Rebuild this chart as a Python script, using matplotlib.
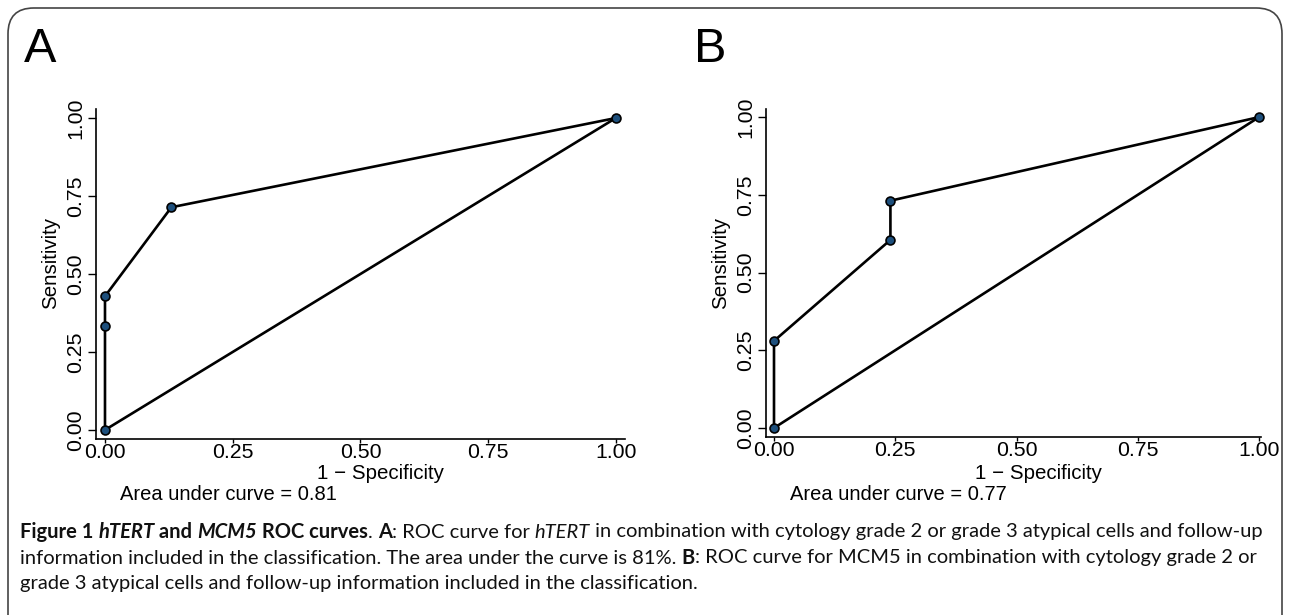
import matplotlib
matplotlib.use("Agg")
import matplotlib.pyplot as plt
from matplotlib.patches import FancyBboxPatch

# ---------------- data ----------------
tick_vals = [0.00, 0.25, 0.50, 0.75, 1.00]
tick_labels = ["0.00", "0.25", "0.50", "0.75", "1.00"]

a_fpr = [0.0, 0.0, 0.0, 0.13, 1.0]
a_tpr = [0.0, 0.333, 0.4286, 0.714, 1.0]
a_auc = "0.81"

b_fpr = [0.0, 0.0, 0.24, 0.24, 1.0]
b_tpr = [0.0, 0.28, 0.605, 0.731, 1.0]
b_auc = "0.77"

ref_x = [0.0, 1.0]
ref_y = [0.0, 1.0]

panel_letters = ["A", "B"]
xlabel = "1 \u2212 Specificity"
ylabel = "Sensitivity"

caption_lines = [
    [("Figure 1 ", "bold", "normal"), ("hTERT", "bold", "italic"), (" and ", "bold", "normal"),
     ("MCM5", "bold", "italic"), (" ROC curves", "bold", "normal"), (". ", "normal", "normal"),
     ("A", "bold", "normal"), (": ROC curve for ", "normal", "normal"), ("hTERT", "normal", "italic"),
     (" in combination with cytology grade 2 or grade 3 atypical cells and follow-up", "normal", "normal")],
    [("information included in the classification. The area under the curve is 81%. ", "normal", "normal"),
     ("B", "bold", "normal"),
     (": ROC curve for MCM5 in combination with cytology grade 2 or", "normal", "normal")],
    [("grade 3 atypical cells and follow-up information included in the classification.", "normal", "normal")],
]

W, H = 1290, 615
fig = plt.figure(figsize=(W / 100, H / 100), dpi=100)
fig.patch.set_facecolor("white")

AXFONT = "Liberation Sans"
LINE = "black"
MFACE = "#1d4f7c"


def px_rect(x0, y0, x1, y1):
    return [x0 / W, 1 - y1 / H, (x1 - x0) / W, (y1 - y0) / H]


def make_panel(rect, xlim, ylim, fpr, tpr, auc, letter, letter_xy, xlab_x, auc_x):
    ax = fig.add_axes(rect)
    ax.set_xlim(*xlim)
    ax.set_ylim(*ylim)
    ax.plot(ref_x, ref_y, color=LINE, lw=1.9, zorder=2, clip_on=False,
            solid_capstyle="round")
    ax.plot(fpr, tpr, color=LINE, lw=1.9, zorder=3, clip_on=False,
            solid_joinstyle="round",
            marker="o", markersize=6.4, markerfacecolor=MFACE,
            markeredgecolor="black", markeredgewidth=1.2)
    for s in ["top", "right"]:
        ax.spines[s].set_visible(False)
    for s in ["left", "bottom"]:
        ax.spines[s].set_linewidth(1.2)
    ax.set_xticks(tick_vals)
    ax.set_xticklabels(tick_labels, fontfamily=AXFONT, fontsize=15.3)
    ax.set_yticks(tick_vals)
    ax.set_yticklabels(tick_labels, fontfamily=AXFONT, fontsize=15.3,
                       rotation=90, va="center")
    ax.tick_params(axis="x", direction="out", length=3, width=1.0, pad=0.2)
    ax.tick_params(axis="y", direction="out", length=6, width=1.0, pad=2)
    fig.text(xlab_x / W, 1 - 473.5 / H, xlabel, ha="center", va="center",
             fontfamily=AXFONT, fontsize=14.8)
    fig.text((rect[0] * W - 45) / W, 1 - 263 / H, ylabel, ha="center", va="center",
             rotation=90, fontfamily=AXFONT, fontsize=14.8)
    fig.text(auc_x / W, 1 - 494 / H, "Area under curve = " + auc, ha="left",
             va="center", fontfamily=AXFONT, fontsize=14.5)
    fig.text(letter_xy[0] / W, 1 - letter_xy[1] / H, letter, ha="left", va="center",
             fontfamily=AXFONT, fontsize=35)
    return ax


make_panel(px_rect(96, 109, 625, 439), (-0.0176, 1.018), (-0.029, 1.029),
           a_fpr, a_tpr, a_auc, panel_letters[0], (24, 50), 380, 120)
make_panel(px_rect(766, 109, 1261, 437), (-0.0165, 1.004), (-0.029, 1.026),
           b_fpr, b_tpr, b_auc, panel_letters[1], (694, 50), 1038, 790)

# border
border = FancyBboxPatch((8 / W, -0.05), (1282 - 8) / W, (H - 8) / H + 0.05,
                        boxstyle="round,pad=0,rounding_size=0.02",
                        transform=fig.transFigure, fill=False,
                        edgecolor="#444444", linewidth=1.2, mutation_aspect=W / H)
fig.patches.append(border)

# caption
CAPFONT = "Lato"
renderer = fig.canvas.get_renderer()


def seg_width(text, weight, style, size):
    t1 = fig.text(0, 0, "x" + text + "x", fontfamily=CAPFONT, fontsize=size,
                  fontweight=weight, fontstyle=style)
    t2 = fig.text(0, 0, "xx", fontfamily=CAPFONT, fontsize=size,
                  fontweight=weight, fontstyle=style)
    w = t1.get_window_extent(renderer).width - t2.get_window_extent(renderer).width
    t1.remove()
    t2.remove()
    return w


# choose size so that the first line spans x=20..1262
base = 11.0
w0 = sum(seg_width(t, wt, st, base) for t, wt, st in caption_lines[0])
cap_size = base * (1262 - 20) / w0

cap_y = [532, 558, 583]
for line, yy in zip(caption_lines, cap_y):
    x = 20.0
    for text, weight, style in line:
        fig.text(x / W, 1 - yy / H, text, fontfamily=CAPFONT, fontsize=cap_size,
                 fontweight=weight, fontstyle=style, ha="left", va="center",
                 color="#111111")
        x += seg_width(text, weight, style, cap_size)

fig.savefig("out.png", dpi=100)
